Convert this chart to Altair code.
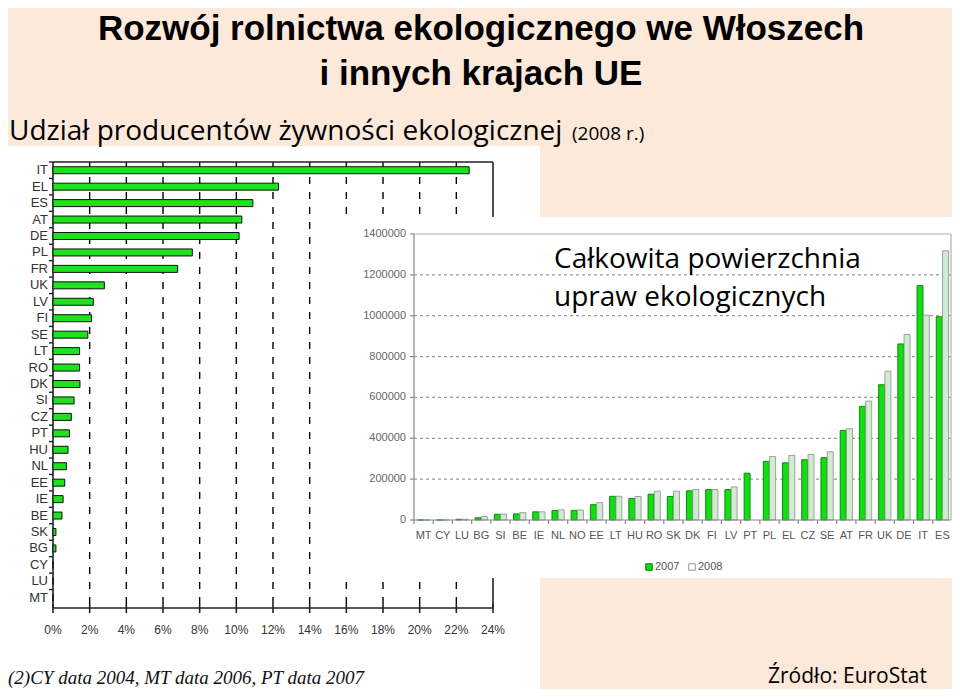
import altair as alt
import pandas as pd

# ---------------- data ----------------
share_countries = ["IT", "EL", "ES", "AT", "DE", "PL", "FR", "UK", "LV", "FI", "SE", "LT", "RO", "DK",
                   "SI", "CZ", "PT", "HU", "NL", "EE", "IE", "BE", "SK", "BG", "CY", "LU", "MT"]
share_pct = [22.7, 12.3, 10.9, 10.3, 10.15, 7.6, 6.8, 2.8, 2.2, 2.1, 1.9, 1.45, 1.45, 1.47,
             1.15, 1.0, 0.9, 0.82, 0.73, 0.64, 0.55, 0.49, 0.16, 0.16, 0.0, 0.0, 0.0]
share_ticks = [0, 2, 4, 6, 8, 10, 12, 14, 16, 18, 20, 22, 24]
share_tick_labels = ["0%", "2%", "4%", "6%", "8%", "10%", "12%", "14%", "16%", "18%", "20%", "22%", "24%"]

area_countries = ["MT", "CY", "LU", "BG", "SI", "BE", "IE", "NL", "NO", "EE", "LT", "HU", "RO", "SK",
                  "DK", "FI", "LV", "PT", "PL", "EL", "CZ", "SE", "AT", "FR", "UK", "DE", "IT", "ES"]
area_2007 = [0, 0, 3500, 11000, 28000, 30000, 40000, 47000, 47000, 75000, 116000, 105000, 126000, 115000,
             143000, 149000, 149000, 229000, 287000, 280000, 295000, 305000, 439000, 556000, 662000,
             862000, 1147000, 995000]
area_2008 = [0, 0, 3500, 17000, 29000, 36000, 40000, 50000, 49000, 85000, 116000, 115000, 141000, 141000,
             149000, 149000, 162000, None, 311000, 316000, 321000, 334000, 447000, 582000, 728000,
             908000, 1003000, 1318000]
area_ticks = [0, 200000, 400000, 600000, 800000, 1000000, 1200000, 1400000]
years = ["2007", "2008"]

# ---------------- tables ----------------
share_df = pd.DataFrame({"country": share_countries, "share": share_pct})
share_tick_df = pd.DataFrame({"v": share_ticks, "label": share_tick_labels})
share_grid_df = share_tick_df[(share_tick_df.v > 0) & (share_tick_df.v < 24)]
share_end_df = share_tick_df[share_tick_df.v == 24]

rows = []
for c, a, b in zip(area_countries, area_2007, area_2008):
    if a is not None:
        rows.append({"country": c, "year": "2007", "area": a})
    if b is not None:
        rows.append({"country": c, "year": "2008", "area": b})
area_df = pd.DataFrame(rows)
area_c_df = pd.DataFrame({"country": area_countries})
area_tick_df = pd.DataFrame({"v": area_ticks, "label": [str(t) for t in area_ticks]})
area_grid_df = area_tick_df[(area_tick_df.v > 0) & (area_tick_df.v < 1400000)]
area_top_df = area_tick_df[area_tick_df.v == 1400000]
legend_df = pd.DataFrame({"year": years})

one = alt.Data(values=[{}])

W, H = 944, 681
PEACH = "#FDE9DA"
SANS = "Liberation Sans, Arial"
TXT = "Open Sans, Noto Sans"

# ---------------- scales (pixel frames) ----------------
lx = alt.Scale(domain=[0, 24], range=[45, 485], zero=True, nice=False)
ly = alt.Scale(domain=share_countries, range=[154, 598], paddingInner=0, paddingOuter=0)

rx_bars = alt.Scale(domain=area_countries, range=[406, 944], paddingInner=0.36, paddingOuter=0.18)
rx_plain = alt.Scale(domain=area_countries, range=[406, 944], paddingInner=0, paddingOuter=0)
ry = alt.Scale(domain=[0, 1400000], range=[512, 226], zero=True, nice=False)

layers = []

# backgrounds
layers.append(alt.Chart(one).mark_rect(color="white").encode(
    x=alt.value(0), x2=alt.value(532), y=alt.value(138), y2=alt.value(H)))

# ---------- left chart ----------
layers.append(alt.Chart(share_grid_df).mark_rule(color="black", strokeDash=[7, 8], strokeWidth=1.4).encode(
    x=alt.X("v:Q", scale=lx, axis=None), y=alt.value(154), y2=alt.value(600)))
layers.append(alt.Chart(share_end_df).mark_rule(color="#222", strokeWidth=1.6).encode(
    x=alt.X("v:Q", scale=lx, axis=None), y=alt.value(154), y2=alt.value(600)))
layers.append(alt.Chart(one).mark_rule(color="#222", strokeWidth=1.6).encode(
    x=alt.value(45), x2=alt.value(485), y=alt.value(154)))
layers.append(alt.Chart(one).mark_rule(color="#222", strokeWidth=1.6).encode(
    x=alt.value(45), x2=alt.value(485), y=alt.value(600)))
layers.append(alt.Chart(one).mark_rule(color="#222", strokeWidth=1.6).encode(
    x=alt.value(45), y=alt.value(154), y2=alt.value(600)))
layers.append(alt.Chart(share_tick_df).mark_rule(color="#222", strokeWidth=1.6).encode(
    x=alt.X("v:Q", scale=lx, axis=None), y=alt.value(596), y2=alt.value(605)))
layers.append(alt.Chart(share_df).mark_rule(color="#222", strokeWidth=1.4).encode(
    y=alt.Y("country:N", scale=ly, axis=None, bandPosition=0), x=alt.value(41), x2=alt.value(45)))
layers.append(alt.Chart(share_df).mark_bar(size=7, color="#1FE21F", stroke="#111", strokeWidth=1).encode(
    x=alt.X("share:Q", scale=lx, axis=None), y=alt.Y("country:N", scale=ly, axis=None)))
layers.append(alt.Chart(share_df).mark_text(align="right", baseline="middle", font=SANS, fontSize=13,
                                            color="#333").encode(
    x=alt.value(40), y=alt.Y("country:N", scale=ly, axis=None), text="country:N"))
layers.append(alt.Chart(share_tick_df).mark_text(align="center", baseline="middle", font=SANS, fontSize=12,
                                                 color="#333").encode(
    x=alt.X("v:Q", scale=lx, axis=None), y=alt.value(622), text="label:N"))

# ---------- inset ----------
layers.append(alt.Chart(one).mark_rect(color="white").encode(
    x=alt.value(334), x2=alt.value(W), y=alt.value(209), y2=alt.value(570)))
layers.append(alt.Chart(area_grid_df).mark_rule(color="#9a9a9a", strokeDash=[3, 3], strokeWidth=1.3).encode(
    y=alt.Y("v:Q", scale=ry, axis=None), x=alt.value(406), x2=alt.value(943)))
layers.append(alt.Chart(area_top_df).mark_rule(color="#b0b0b0", strokeWidth=1.2).encode(
    y=alt.Y("v:Q", scale=ry, axis=None), x=alt.value(406), x2=alt.value(943)))
layers.append(alt.Chart(one).mark_rule(color="#b0b0b0", strokeWidth=1.2).encode(
    x=alt.value(943), y=alt.value(226), y2=alt.value(512)))
layers.append(alt.Chart(one).mark_rule(color="#888", strokeWidth=1.2).encode(
    x=alt.value(406), y=alt.value(226), y2=alt.value(512)))
layers.append(alt.Chart(area_tick_df).mark_rule(color="#888", strokeWidth=1.2).encode(
    y=alt.Y("v:Q", scale=ry, axis=None), x=alt.value(402), x2=alt.value(406)))
layers.append(alt.Chart(area_c_df).mark_rule(color="#888", strokeWidth=1.2).encode(
    x=alt.X("country:N", scale=rx_plain, axis=None, bandPosition=0), y=alt.value(512), y2=alt.value(516)))
layers.append(alt.Chart(area_df).mark_bar(strokeWidth=0.9).encode(
    x=alt.X("country:N", scale=rx_bars, axis=None),
    xOffset=alt.XOffset("year:N", scale=alt.Scale(domain=years, paddingInner=0.05, paddingOuter=0)),
    y=alt.Y("area:Q", scale=ry, axis=None),
    color=alt.Color("year:N", scale=alt.Scale(domain=years, range=["#10E010", "#D2EAD2"]), legend=None),
    stroke=alt.Stroke("year:N", scale=alt.Scale(domain=years, range=["#0A7A0A", "#8E9E8E"]), legend=None)))
layers.append(alt.Chart(one).mark_rule(color="#888", strokeWidth=1.2).encode(
    x=alt.value(406), x2=alt.value(943), y=alt.value(512)))
layers.append(alt.Chart(area_tick_df).mark_text(align="right", baseline="middle", font=SANS, fontSize=11,
                                                color="#666").encode(
    x=alt.value(398), y=alt.Y("v:Q", scale=ry, axis=None), text="label:N"))
layers.append(alt.Chart(area_c_df).mark_text(align="center", baseline="middle", font=SANS, fontSize=11,
                                             color="#555").encode(
    x=alt.X("country:N", scale=rx_plain, axis=None), y=alt.value(528), text="country:N"))
# legend
leg_x = alt.Scale(domain=years, range=[641, 684], padding=0)
layers.append(alt.Chart(legend_df).mark_square(size=42, strokeWidth=1, opacity=1).encode(
    x=alt.X("year:N", scale=leg_x, axis=None), y=alt.value(559),
    fill=alt.Fill("year:N", scale=alt.Scale(domain=years, range=["#10E010", "#FFFFFF"]), legend=None),
    stroke=alt.Stroke("year:N", scale=alt.Scale(domain=years, range=["#0A7A0A", "#8E9E8E"]), legend=None)))
layers.append(alt.Chart(legend_df).mark_text(align="left", baseline="middle", dx=6, font=SANS, fontSize=11,
                                             color="#555").encode(
    x=alt.X("year:N", scale=leg_x, axis=None), y=alt.value(559), text="year:N"))

# ---------- texts ----------
def txt(s, x, y, size, font=TXT, weight="normal", align="left", style="normal", color="#000"):
    return alt.Chart(one).mark_text(text=s, align=align, baseline="alphabetic", font=font, fontSize=size,
                                    fontWeight=weight, fontStyle=style, color=color).encode(
        x=alt.value(x), y=alt.value(y))

layers.append(txt("Rozwój rolnictwa ekologicznego we Włoszech", 473, 32, 35, font=SANS, weight="bold",
                  align="center"))
layers.append(txt("i innych krajach UE", 473, 77, 35, font=SANS, weight="bold", align="center"))
layers.append(txt("Udział producentów żywności ekologicznej", 1, 132, 28))
layers.append(txt("(2008 r.)", 564, 132, 19))
layers.append(txt("Całkowita powierzchnia", 546, 260, 28))
layers.append(txt("upraw ekologicznych", 546, 298, 28))
layers.append(txt("(2)CY data 2004, MT data 2006,  PT data 2007", 0, 676, 19,
                  font="Liberation Serif, Times New Roman", style="italic", color="#111"))
layers.append(txt("Źródło: EuroStat", 760, 675, 21))

chart = alt.layer(*layers).resolve_scale(
    x="independent", y="independent", color="independent", stroke="independent", fill="independent"
).properties(
    width=W, height=H, padding=0, autosize=alt.AutoSizeParams(type="none"), background=PEACH
).configure_view(stroke=None)

chart.save("out.html", embed_options={"renderer": "svg", "actions": False})
